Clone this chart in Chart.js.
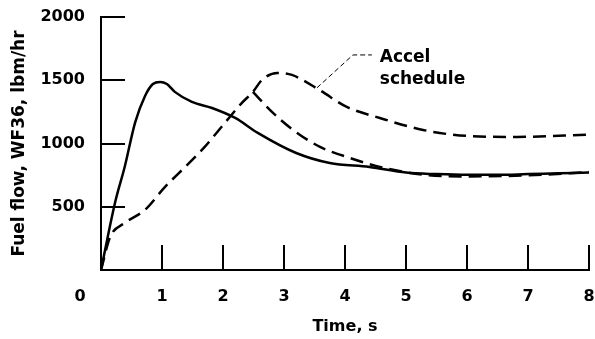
<!DOCTYPE html>
<html>
<head>
<meta charset="utf-8">
<script src="https://cdn.jsdelivr.net/npm/chart.js@4"></script>
<style>
  body { margin: 0; background: #fff; }
</style>
</head>
<body>
<canvas id="chart" width="595" height="339"></canvas>
<script>
// measured fuel flow (solid)
var solidTime = [0, 0.23, 0.39, 0.56, 0.72, 0.85, 0.97, 1.08, 1.21, 1.49, 1.82, 2.2, 2.57, 3.2, 3.75, 4.4, 5.0, 5.5, 6.0, 6.5, 7.0, 7.5, 8.0];
var solidFlow = [0, 532, 818, 1167, 1374, 1470, 1487, 1470, 1408, 1329, 1281, 1202, 1084, 925, 846, 815, 770, 758, 752, 752, 758, 764, 770];

// accel schedule (dashed)
var accelTime = [0, 0.15, 0.39, 0.72, 1.05, 1.38, 1.7, 2.03, 2.31, 2.49, 2.64, 2.89, 3.13, 3.59, 4.03, 4.57, 5.28, 6.0, 6.82, 8.0];
var accelFlow = [0, 261, 372, 475, 657, 815, 973, 1163, 1321, 1408, 1503, 1558, 1542, 1420, 1289, 1202, 1107, 1060, 1052, 1070];

// second dashed branch from the peak at 2.5 s
var branchTime = [2.49, 2.82, 3.15, 3.59, 4.08, 4.57, 5.28, 6.0, 7.0, 8.0];
var branchFlow = [1408, 1242, 1107, 973, 886, 815, 754, 740, 748, 775];

var xTicks = [0, 1, 2, 3, 4, 5, 6, 7, 8];
var yTicks = [0, 500, 1000, 1500, 2000];

function toPoints(xs, ys) {
    return xs.map(function (x, i) { return { x: x, y: ys[i] }; });
}

var tickFont = { family: 'DejaVu Sans', size: 16, weight: 'bold' };

// tick marks pointing into the plot, plus the "0" at the corner and the label
var insideTicks = {
    id: 'insideTicks',
    afterDraw: function (chart) {
        var ctx = chart.ctx;
        var xs = chart.scales.x, ys = chart.scales.y;
        var area = chart.chartArea;
        ctx.save();
        ctx.strokeStyle = '#000';
        ctx.lineWidth = 2;
        ctx.beginPath();
        yTicks.forEach(function (v) {
            if (v === 0) return;
            var py = Math.round(ys.getPixelForValue(v));
            ctx.moveTo(area.left, py);
            ctx.lineTo(area.left + 24, py);
        });
        xTicks.forEach(function (v) {
            if (v === 0) return;
            var px = Math.round(xs.getPixelForValue(v));
            ctx.moveTo(px, area.bottom);
            ctx.lineTo(px, area.bottom - 25);
        });
        ctx.stroke();

        ctx.fillStyle = '#000';
        ctx.font = 'bold 16px "DejaVu Sans"';
        ctx.textAlign = 'center';
        ctx.textBaseline = 'middle';
        ctx.fillText('0', xs.getPixelForValue(0) - 21, area.bottom + 27);

        // leader for the accel schedule label
        ctx.lineWidth = 1;
        ctx.setLineDash([5, 3]);
        ctx.beginPath();
        ctx.moveTo(xs.getPixelForValue(3.54), ys.getPixelForValue(1440));
        ctx.lineTo(xs.getPixelForValue(4.13), ys.getPixelForValue(1700));
        ctx.lineTo(xs.getPixelForValue(4.44), ys.getPixelForValue(1700));
        ctx.stroke();
        ctx.setLineDash([]);

        ctx.font = 'bold 17px "DejaVu Sans"';
        ctx.textAlign = 'left';
        ctx.textBaseline = 'alphabetic';
        ctx.fillText('Accel', xs.getPixelForValue(4.57), ys.getPixelForValue(1645));
        ctx.fillText('schedule', xs.getPixelForValue(4.57), ys.getPixelForValue(1471));
        ctx.restore();
    }
};

var config = {
    type: 'line',
    data: {
        datasets: [
            {
                label: 'Fuel flow',
                data: toPoints(solidTime, solidFlow),
                borderColor: '#000',
                borderWidth: 2.5,
                pointRadius: 0,
                cubicInterpolationMode: 'monotone',
                fill: false
            },
            {
                label: 'Accel schedule',
                data: toPoints(accelTime, accelFlow),
                borderColor: '#000',
                borderWidth: 2.5,
                borderDash: [13, 7],
                pointRadius: 0,
                cubicInterpolationMode: 'monotone',
                fill: false
            },
            {
                label: 'Branch',
                data: toPoints(branchTime, branchFlow),
                borderColor: '#000',
                borderWidth: 2.5,
                borderDash: [13, 7],
                pointRadius: 0,
                cubicInterpolationMode: 'monotone',
                fill: false
            }
        ]
    },
    options: {
        responsive: false,
        animation: false,
        layout: { autoPadding: false, padding: { top: 17, right: 6, left: 0, bottom: 0 } },
        plugins: {
            legend: { display: false },
            tooltip: { enabled: false }
        },
        scales: {
            x: {
                type: 'linear',
                min: 0,
                max: 8,
                afterBuildTicks: function (scale) {
                    scale.ticks = xTicks.map(function (v) { return { value: v }; });
                },
                afterFit: function (scale) {
                    scale.height = 69;
                    scale.paddingLeft = 0;
                    scale.paddingRight = 0;
                },
                grid: { display: false, drawTicks: false },
                border: { display: true, color: '#000', width: 2 },
                ticks: {
                    color: '#000',
                    font: tickFont,
                    padding: 17,
                    maxRotation: 0,
                    callback: function (v) { return v === 0 ? '' : v; }
                },
                title: {
                    display: true,
                    text: 'Time, s',
                    color: '#000',
                    font: { family: 'DejaVu Sans', size: 16, weight: 'bold' },
                    padding: { top: 0, bottom: 3 }
                }
            },
            y: {
                min: 0,
                max: 2000,
                afterBuildTicks: function (scale) {
                    scale.ticks = yTicks.map(function (v) { return { value: v }; });
                },
                afterFit: function (scale) {
                    scale.width = 101;
                    scale.paddingTop = 0;
                    scale.paddingBottom = 0;
                },
                grid: { display: false, drawTicks: false },
                border: { display: true, color: '#000', width: 2 },
                ticks: {
                    color: '#000',
                    font: tickFont,
                    padding: 16,
                    callback: function (v) { return v === 0 ? '' : v; }
                },
                title: {
                    display: true,
                    text: 'Fuel flow, WF36, lbm/hr',
                    color: '#000',
                    font: { family: 'DejaVu Sans', size: 17, weight: 'bold' },
                    padding: { top: 9, bottom: 0 }
                }
            }
        }
    },
    plugins: [insideTicks]
};

new Chart(document.getElementById('chart'), config);
</script>
</body>
</html>
